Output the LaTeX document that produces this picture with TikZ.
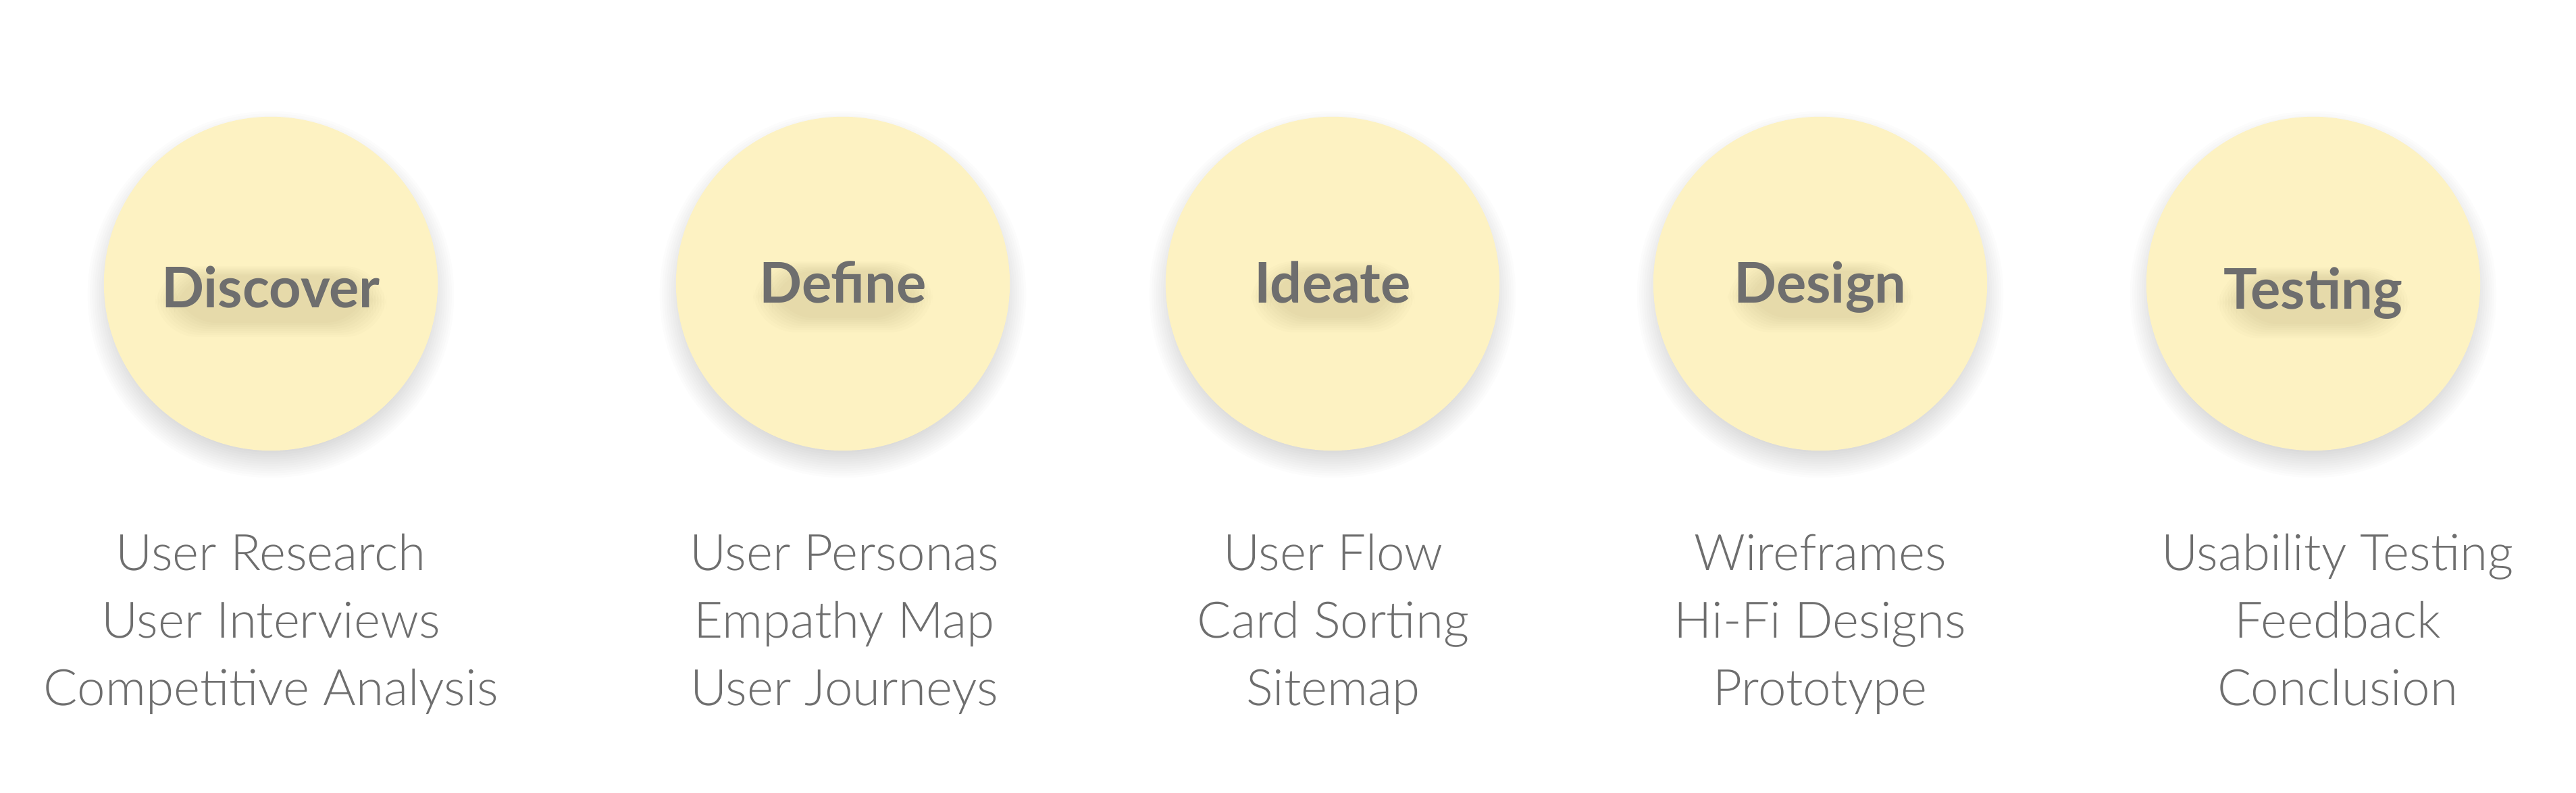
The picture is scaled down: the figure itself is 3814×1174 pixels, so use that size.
\documentclass[tikz,border=0pt]{standalone}
\usepackage{fontspec}
\setmainfont{Lato}
\newfontfamily\lightfont{Lato Light}
\usepackage{xcolor}
\usepackage{tikz}
\definecolor{bg}{HTML}{FFFFFF}
\definecolor{disc}{HTML}{FDF2C2}
\definecolor{ink}{HTML}{6E6E6E}
\definecolor{haze}{HTML}{000000}
\definecolor{glow}{HTML}{6B5A10}
\tikzset{
  stage/.style={circle, fill=disc, minimum size=4.94cm, inner sep=0pt},
  stageshade/.style={fill=haze, opacity=0.011},
  titleshade/.style={fill=glow, opacity=0.016, rounded corners=18pt},
  stagelab/.style={text=ink, font=\fontsize{23.6}{28}\selectfont\bfseries, anchor=base,
    inner sep=0pt},
  itemlab/.style={text=ink, font=\lightfont\fontsize{21.2}{28.45}\selectfont,
    align=center, anchor=base, inner sep=0pt},
}

\begin{document}
\begin{tikzpicture}[x=0.01cm,y=0.01cm]
  \fill[bg] (0,0) rectangle (3814,1174);
  \useasboundingbox (0,0) rectangle (3814,1174);

  % stages: circle, title, what goes on in it
  \foreach \x/\ty/\hw/\ix/\nm/\ttl/\one/\two/\three in {
    401/718/161/401/discover/Discover/User Research/User Interviews/Competitive Analysis,
    1248/725/123/1250/define/Define/User Personas/Empathy Map/User Journeys,
    1973/725/111/1974/ideate/Ideate/User Flow/Card Sorting/Sitemap,
    2695/725/127/2695/design/Design/Wireframes/Hi-Fi Designs/Prototype,
    3425/716/132/3461/testing/Testing/Usability Testing/Feedback/Conclusion}{
    % soft shadow under the circle
    \foreach \k in {0,...,11}{
      \fill[stageshade] (\x,738) circle ({234+3.4*\k});
    }
    \node[stage] (\nm) at (\x,754) {};
    % soft shadow under the title
    \foreach \k in {0,...,7}{
      \fill[titleshade] (\x-\hw-4*\k+18,\ty-22-3*\k) rectangle (\x+\hw+4*\k-18,\ty+48+2*\k);
    }
    \node[stagelab] (\nm-title) at (\x,\ty) {\ttl};
    \node[itemlab] (\nm-items) at (\ix,129) {\one\\\two\\\three};
  }
\end{tikzpicture}
\end{document}
